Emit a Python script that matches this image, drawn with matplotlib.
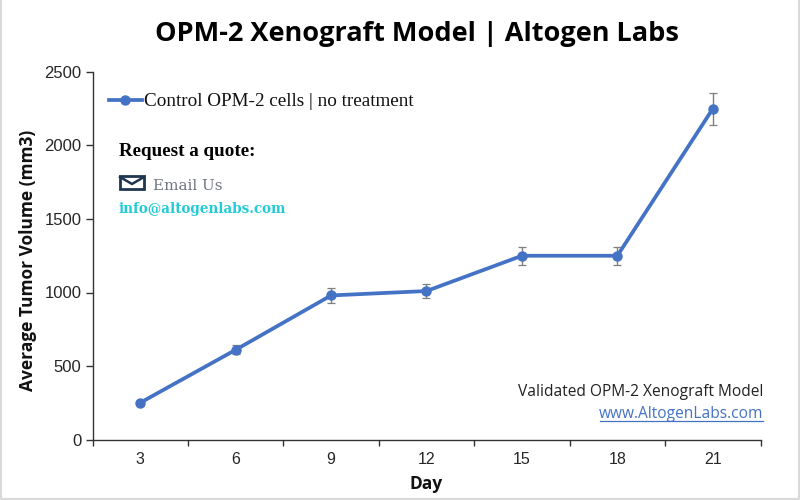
import matplotlib
matplotlib.use("Agg")
import matplotlib.pyplot as plt
from matplotlib.patches import Rectangle
from matplotlib.lines import Line2D

days = ["3", "6", "9", "12", "15", "18", "21"]
volume = [250, 610, 980, 1010, 1250, 1250, 2250]
errors = [10, 30, 50, 50, 60, 60, 110]
y_ticks = [0, 500, 1000, 1500, 2000, 2500]

W, H = 800, 500
BLUE = "#4472C4"


def px(x, y):
    # pixel position (top-left origin) -> figure fraction
    return x / W, 1 - y / H


fig = plt.figure(figsize=(8, 5), dpi=100)
ax = fig.add_axes([92.5 / W, (H - 439.5) / H, 668 / W, 367.5 / H])

xs = list(range(len(days)))
ax.errorbar(xs, volume, yerr=errors, fmt="none", ecolor="#7f7f7f", elinewidth=1,
            capsize=3, capthick=0.9, zorder=2)
ax.plot(xs, volume, color=BLUE, lw=2.7, marker="o", ms=6.5, zorder=3)

ax.set_xlim(-0.5, len(days) - 0.5)
ax.set_ylim(0, 2500)
ax.set_yticks(y_ticks)
ax.set_xticks(xs)
ax.set_xticklabels(days)
ax.set_xticks([i - 0.5 for i in range(len(days) + 1)], minor=True)
ax.tick_params(axis="x", which="major", length=0, pad=9, labelsize=11.5, labelcolor="#262626")
ax.tick_params(axis="x", which="minor", length=4, width=1, color="#333333", direction="out")
ax.tick_params(axis="y", length=5, width=1, color="#333333", pad=3, labelsize=12, labelcolor="#262626")
for lab in ax.get_xticklabels() + ax.get_yticklabels():
    lab.set_family("Liberation Sans")
ax.spines["top"].set_visible(False)
ax.spines["right"].set_visible(False)
for s in ("left", "bottom"):
    ax.spines[s].set_color("#333333")
    ax.spines[s].set_linewidth(1)

fig.text(*px(417, 34), "OPM-2 Xenograft Model | Altogen Labs", family="Open Sans",
         weight="bold", fontsize=19.5, ha="center", va="center", color="black")
fig.text(*px(28, 260), "Average Tumor Volume (mm3)", family="Open Sans", weight="bold",
         fontsize=12.5, rotation=90, ha="center", va="center", color="#111111")
fig.text(*px(426, 484), "Day", family="Open Sans", weight="bold", fontsize=12.5,
         ha="center", va="center", color="#111111")

# legend drawn by hand, it sits inside the plot with no frame
fig.add_artist(Line2D([109 / W, 142 / W], [1 - 100 / H] * 2, color=BLUE, lw=2.7))
fig.add_artist(Line2D([125.5 / W], [1 - 100 / H], color=BLUE, marker="o", ms=6.5))
fig.text(*px(144, 101.5), "Control OPM-2 cells | no treatment", family="Liberation Serif",
         fontsize=13.8, ha="left", va="center", color="#111111")

fig.text(*px(119, 151.5), "Request a quote:", family="Liberation Serif", weight="bold",
         fontsize=13.7, ha="left", va="center", color="black")

# envelope icon
fig.add_artist(Rectangle(px(120, 189), 24 / W, 13 / H, transform=fig.transFigure,
                         facecolor="white", edgecolor="#1f3550", lw=2))
fig.add_artist(Line2D([120 / W, 132 / W, 144 / W], [1 - 177 / H, 1 - 184 / H, 1 - 177 / H],
                      color="#1f3550", lw=1.8))
fig.text(*px(153, 185.5), "Email Us", family="DejaVu Serif", fontsize=10.9,
         ha="left", va="center", color="#6f7480")
fig.text(*px(119, 208.5), "info@altogenlabs.com", family="DejaVu Serif", weight="bold",
         fontsize=9.75, ha="left", va="center", color="#22ccd6")

fig.text(*px(763, 392), "Validated OPM-2 Xenograft Model", family="Open Sans", fontsize=11.2,
         ha="right", va="center", color="#222222")
fig.text(*px(763, 414), "www.AltogenLabs.com", family="Open Sans", fontsize=11.2,
         ha="right", va="center", color=BLUE)
fig.add_artist(Line2D([600 / W, 763 / W], [1 - 420.5 / H] * 2, color=BLUE, lw=0.9))

# thin gray frame of the original image
fig.add_artist(Line2D([1 / W, 1 / W, 798.5 / W, 798.5 / W], [1, 1 - 498.5 / H, 1 - 498.5 / H, 1],
                      color="#d9d9d9", lw=1.5))

fig.savefig("out.png", dpi=100)
